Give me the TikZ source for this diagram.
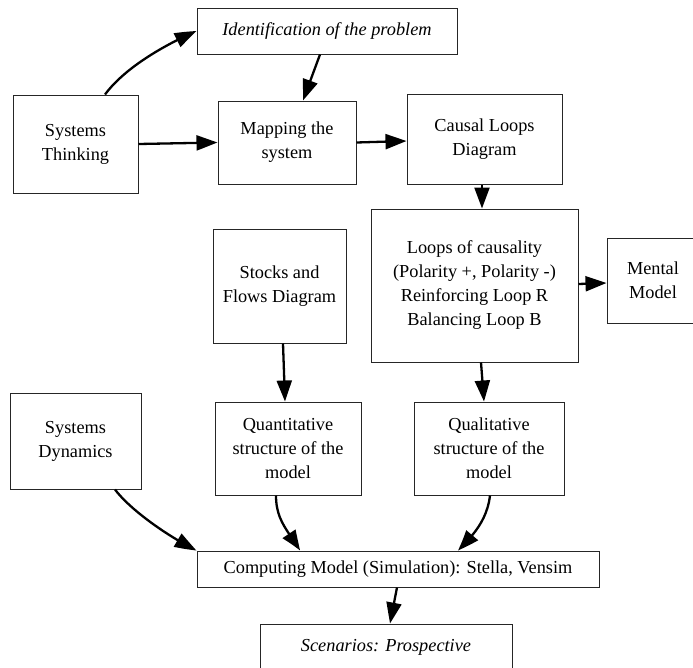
\documentclass[tikz,border=0pt]{standalone}
\usepackage{fontspec}
\setmainfont{Liberation Serif}
\usetikzlibrary{arrows.meta,bending}
\tikzset{
  box/.style={draw=black!85, line width=1pt, rectangle, inner sep=0pt, align=center,
    font=\fontsize{18.3}{24}\selectfont},
  conn/.style={line width=2.3pt, -{Triangle[length=21pt,width=15pt,bend]}},
}
\begin{document}
\begin{tikzpicture}[x=1pt,y=-1pt]
\useasboundingbox (0,0) rectangle (693,667);
\clip (0,0) rectangle (693,667);
\fill[white] (0,0) rectangle (693,667);

\node[box, minimum width=260pt, minimum height=46pt] (ident) at (327,31) {\itshape Identification of the problem};
\node[box, minimum width=125pt, minimum height=98pt] (st) at (75.5,144) {Systems\\Thinking};
\node[box, minimum width=138pt, minimum height=83pt] (map) at (287,142.5) {Mapping the\\system};
\node[box, minimum width=155pt, minimum height=90pt] (cld) at (484.5,139) {Causal Loops\\Diagram};
\node[box, minimum width=207pt, minimum height=153pt] (loops) at (474.5,285.5) {Loops of causality\\(Polarity +, Polarity -)\\Reinforcing Loop R\\Balancing Loop B};
\node[box, minimum width=92pt, minimum height=85pt] (mental) at (653,280.5) {Mental\\Model};
\node[box, minimum width=133pt, minimum height=114pt] (sfd) at (279.5,286) {Stocks and\\Flows Diagram};
\node[box, minimum width=131pt, minimum height=96pt] (sd) at (75.5,441) {Systems\\Dynamics};
\node[box, minimum width=146pt, minimum height=93pt] (quant) at (288,448.5) {Quantitative\\structure of the\\model};
\node[box, minimum width=150pt, minimum height=93pt] (qual) at (489,448.5) {Qualitative\\structure of the\\model};
\node[box, minimum width=402pt, minimum height=36pt] (comp) at (398,569) {Computing Model (Simulation): Stella, Vensim};
\node[box, minimum width=252pt, minimum height=46pt] (scen) at (386,647) {\itshape Scenarios: Prospective};

% straight connectors
\draw[conn] ([xshift=-7pt]ident.south) -- ([xshift=16pt]map.north);
\draw[conn] (st.east) -- (map.west);
\draw[conn] (map.east) -- ([yshift=-2pt]cld.west);
\draw[conn] ([xshift=-2.5pt]cld.south) -- ([xshift=-2.5pt]loops.north -| cld.south);
\draw[conn] ([yshift=1.5pt]loops.east) -- ([yshift=-2.5pt]mental.west);
\draw[conn] ([xshift=3.5pt]sfd.south) -- ([xshift=-3pt]quant.north);
\draw[conn] ([xshift=6.5pt]loops.south) -- ([xshift=-5pt]qual.north);
\draw[conn] ([xshift=-1pt]comp.south) -- ([xshift=4pt]scen.north);

% curved connectors
\draw[conn] ([xshift=29.5pt]st.north) .. controls +(20,-27) and +(-32,14) .. (ident.west);
\draw[conn] ([xshift=39.5pt]sd.south) .. controls +(15,20) and +(-30,-15) .. (comp.north west);
\draw[conn] ([xshift=-12pt]quant.south) .. controls +(0,25) and +(-12,-20) .. ([xshift=-98pt]comp.north);
\draw[conn] ([xshift=1pt]qual.south) .. controls +(-3,25) and +(15,-15) .. ([xshift=60pt]comp.north);
\end{tikzpicture}
\end{document}
